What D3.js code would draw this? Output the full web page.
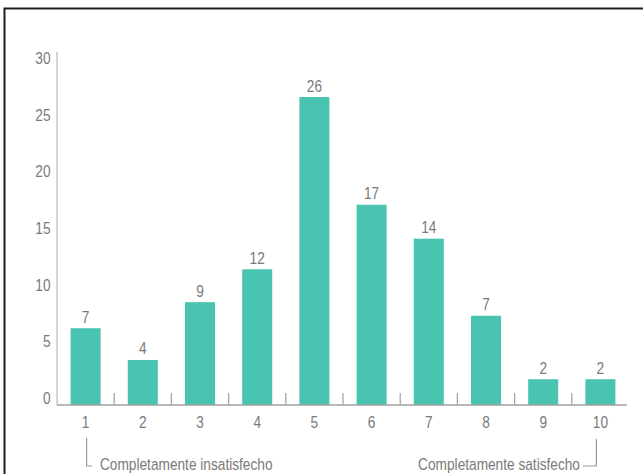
<!DOCTYPE html>
<html>
<head>
  <meta charset="utf-8" />
  <title>Satisfaccion</title>
  <style>
    body { margin: 0; background: #fff; }
    svg { display: block; }
    text { font-family: "Liberation Sans", Arial, sans-serif; font-size: 16px; fill: #7a7a7a; }
  </style>
  <script src="https://cdnjs.cloudflare.com/ajax/libs/d3/7.8.5/d3.min.js"></script>
</head>
<body>
  <div id="chartArea"></div>
  <script>
    // data
    var categories = ["1", "2", "3", "4", "5", "6", "7", "8", "9", "10"];
    var valueLabels = [7, 4, 9, 12, 26, 17, 14, 7, 2, 2];
    // bar heights as drawn (they do not quite follow the printed labels)
    var barHeights = [6.2, 3.4, 8.5, 11.4, 26.6, 17.1, 14.1, 7.3, 1.7, 1.7];
    var yTicks = [0, 5, 10, 15, 20, 25, 30];
    var endNotes = ["Completamente insatisfecho", "Completamente satisfecho"];

    var W = 643, H = 474;
    var baseY = 405;
    var squeeze = 0.855; // condensed look of the original font

    // squeeze a text horizontally around its own x
    function condense(sel) {
      sel.each(function () {
        var t = d3.select(this);
        var x = +t.attr('x') || 0;
        t.attr('transform', 'translate(' + x + ',0) scale(' + squeeze + ',1) translate(' + (-x) + ',0)');
      });
    }

    var svg = d3.select('#chartArea')
      .append('svg')
      .attr('width', W)
      .attr('height', H);

    // frame around the figure
    svg.append('rect')
      .attr('x', 4.5).attr('y', 8.5)
      .attr('width', 660).attr('height', 500)
      .attr('fill', 'none')
      .attr('stroke', '#1e1e1e')
      .attr('stroke-width', 2);

    var xScale = d3.scaleBand()
      .domain(categories)
      .range([57, 629])
      .paddingInner(0.475)
      .paddingOuter(0.2375);

    var yScale = d3.scaleLinear()
      .domain([0, 30])
      .range([398.5, 58.5]);

    // y axis labels
    var yAxis = svg.append('g')
      .attr('transform', 'translate(57,0)')
      .call(d3.axisLeft(yScale).tickValues(yTicks).tickSize(0).tickPadding(6.5));
    yAxis.select('.domain').remove();
    yAxis.selectAll('text').attr('fill', '#7a7a7a').style('font-size', '16px')
      .style('font-family', '"Liberation Sans", Arial, sans-serif')
      .call(condense);

    svg.append('line')
      .attr('x1', 57).attr('x2', 57)
      .attr('y1', 52).attr('y2', baseY)
      .attr('stroke', '#c4c4c4')
      .attr('stroke-width', 1.5);

    // bars
    svg.selectAll('.bar')
      .data(categories)
      .enter()
      .append('rect')
      .attr('class', 'bar')
      .attr('x', d => xScale(d))
      .attr('width', xScale.bandwidth())
      .attr('y', (d, i) => yScale(barHeights[i]))
      .attr('height', (d, i) => baseY - yScale(barHeights[i]))
      .attr('fill', '#48c4b0');

    // value labels
    svg.selectAll('.val')
      .data(categories)
      .enter()
      .append('text')
      .attr('class', 'val')
      .attr('x', d => xScale(d) + xScale.bandwidth() / 2)
      .attr('y', (d, i) => yScale(barHeights[i]) - 5.5)
      .attr('text-anchor', 'middle')
      .text((d, i) => valueLabels[i])
      .call(condense);

    // x axis
    var step = xScale.step();
    svg.append('line')
      .attr('x1', 57).attr('x2', 627)
      .attr('y1', baseY).attr('y2', baseY)
      .attr('stroke', '#a0a0a0')
      .attr('stroke-width', 1.5);

    svg.selectAll('.sep')
      .data(categories.slice(1))
      .enter()
      .append('line')
      .attr('class', 'sep')
      .attr('x1', d => xScale(d) - (step - xScale.bandwidth()) / 2)
      .attr('x2', d => xScale(d) - (step - xScale.bandwidth()) / 2)
      .attr('y1', baseY - 12).attr('y2', baseY)
      .attr('stroke', '#a0a0a0')
      .attr('stroke-width', 1.2);

    var xAxis = svg.append('g')
      .attr('transform', 'translate(0,' + baseY + ')')
      .call(d3.axisBottom(xScale).tickSize(0).tickPadding(11.3));
    xAxis.select('.domain').remove();
    xAxis.selectAll('text').attr('fill', '#7a7a7a').style('font-size', '16px')
      .style('font-family', '"Liberation Sans", Arial, sans-serif')
      .call(condense);

    // end notes with brackets
    var c1 = xScale(categories[0]) + xScale.bandwidth() / 2 + 1;
    var c10 = xScale(categories[9]) + xScale.bandwidth() / 2 - 4;

    svg.append('path')
      .attr('d', 'M' + c1 + ',438V466H92')
      .attr('fill', 'none')
      .attr('stroke', '#999')
      .attr('stroke-width', 1.2);
    svg.append('text')
      .attr('x', 100).attr('y', 470)
      .text(endNotes[0])
      .call(condense);

    svg.append('path')
      .attr('d', 'M' + c10 + ',439V466H583')
      .attr('fill', 'none')
      .attr('stroke', '#999')
      .attr('stroke-width', 1.2);
    svg.append('text')
      .attr('x', 580).attr('y', 470)
      .attr('text-anchor', 'end')
      .text(endNotes[1])
      .call(condense);
  </script>
</body>
</html>
